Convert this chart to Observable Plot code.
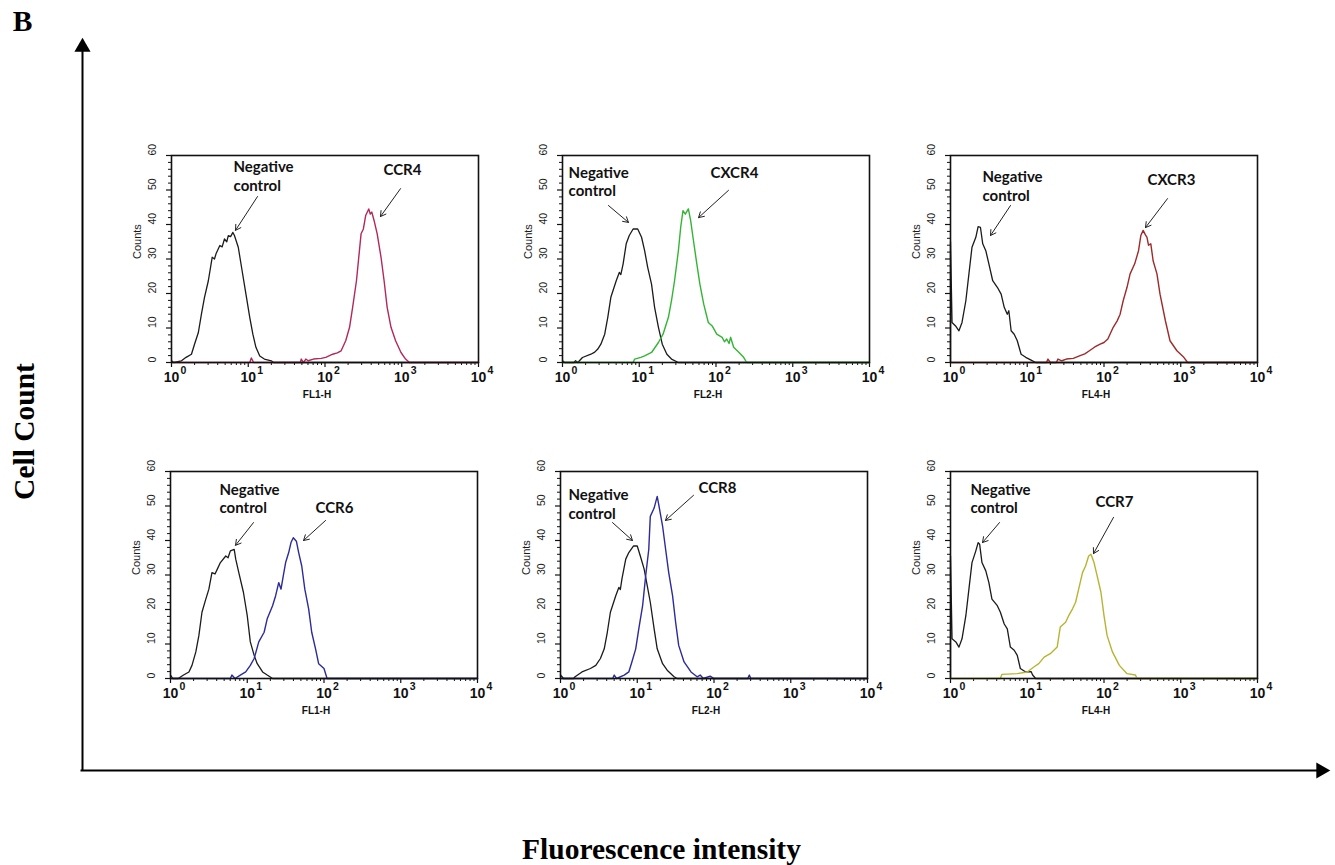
<!DOCTYPE html>
<html><head><meta charset="utf-8">
<script src="https://cdn.jsdelivr.net/npm/d3@7"></script>
<script src="https://cdn.jsdelivr.net/npm/@observablehq/plot@0.6"></script>
<style>
body{margin:0;background:#fff;}
#fig{position:relative;width:1335px;height:865px;overflow:hidden;background:#fff;}
#fig svg{position:absolute;overflow:visible;}
</style></head><body><div id="fig"></div>
<script>
// ---- Data: [log10(fluorescence intensity), cell count] ----
const ccr4NegCtrl = [[0,0.5],[0.03,0],[0.13,0.5],[0.19,1.5],[0.26,2.4],[0.30,5.3],[0.35,8.7],[0.39,14],[0.43,18.9],[0.48,23.7],[0.53,30.5],[0.56,30],[0.58,31.5],[0.63,33.9],[0.66,33.5],[0.69,35.8],[0.72,35],[0.74,36.8],[0.77,36.5],[0.80,37.7],[0.82,36.8],[0.87,33.4],[0.92,26.6],[0.97,19.8],[1.02,13],[1.06,8.2],[1.10,4.4],[1.15,1.9],[1.21,1],[1.30,0.5],[1.33,0],[4,0]];
const ccr4 = [[0,0],[1.02,0],[1.04,1.3],[1.07,0],[1.68,0],[1.69,1],[1.72,0],[1.75,1],[1.78,0.5],[1.85,1],[1.95,1.2],[2.01,1.5],[2.10,2.4],[2.16,2.8],[2.21,3.4],[2.27,6.3],[2.32,10.2],[2.36,16],[2.41,23.7],[2.44,30.5],[2.47,37.3],[2.50,38.7],[2.53,42.6],[2.57,44.5],[2.59,43],[2.61,43.6],[2.64,41.1],[2.68,37.3],[2.73,30.5],[2.77,23.7],[2.81,16],[2.86,10.2],[2.92,6.3],[2.99,2.9],[3.05,1],[3.10,0],[4,0]];
const cxcr4NegCtrl = [[0,0.5],[0.03,0],[0.15,0],[0.17,0.5],[0.2,0],[0.26,1.45],[0.37,2.4],[0.42,3],[0.46,3.9],[0.50,5.3],[0.55,8.2],[0.59,13.1],[0.63,18.9],[0.70,23.7],[0.74,26.1],[0.76,25.5],[0.79,28.6],[0.83,34.4],[0.87,36.8],[0.92,38.7],[0.98,38.7],[1.03,36.3],[1.07,32.4],[1.11,27.6],[1.16,22.7],[1.20,16],[1.25,10.2],[1.30,5.3],[1.36,2.4],[1.42,1],[1.51,0],[4,0]];
const cxcr4 = [[0,0],[0.92,0],[0.94,1],[1.02,1.5],[1.07,1.9],[1.16,2.9],[1.25,5.8],[1.31,8.2],[1.38,13.1],[1.42,17.9],[1.46,23.7],[1.51,32.4],[1.54,39.2],[1.57,44],[1.60,43],[1.64,44.5],[1.67,41.1],[1.70,36.3],[1.75,28.6],[1.79,22.7],[1.84,16.9],[1.90,11.6],[1.95,10.6],[2.01,8.2],[2.08,7.3],[2.11,6],[2.14,6.8],[2.17,5.5],[2.19,7.3],[2.23,4.4],[2.30,2.9],[2.36,1.5],[2.40,0],[4,0]];
const cxcr3NegCtrl = [[0,0],[0,35],[0.02,11.6],[0.066,10.6],[0.11,9.2],[0.15,11.6],[0.2,17.9],[0.24,25.7],[0.28,33.4],[0.33,36.3],[0.36,39.4],[0.39,39.2],[0.42,34.4],[0.46,32.4],[0.5,28.6],[0.55,23.7],[0.61,21.8],[0.66,19.8],[0.7,16],[0.74,14],[0.76,15],[0.79,9.2],[0.83,8.2],[0.87,6.3],[0.92,2.4],[0.98,1.5],[1.05,0.7],[1.11,0],[4,0]];
const cxcr3 = [[0,0],[1.25,0],[1.27,1],[1.3,0],[1.38,0],[1.4,1],[1.45,0.5],[1.51,1],[1.6,1.2],[1.68,1.9],[1.75,2.5],[1.81,3.4],[1.88,4.5],[1.95,5.3],[2.0,5.8],[2.05,6.8],[2.12,10.2],[2.17,12],[2.21,14],[2.25,17.9],[2.3,21.8],[2.34,25.7],[2.4,28.6],[2.45,32.4],[2.48,36.8],[2.51,38.3],[2.54,37],[2.56,36.3],[2.58,34],[2.61,34.4],[2.64,29.5],[2.69,25.7],[2.73,19.8],[2.8,12.1],[2.86,6.3],[2.95,3.4],[3.04,1.5],[3.09,0],[4,0]];
const ccr6NegCtrl = [[0,1],[0.03,0],[0.1,0],[0.17,1],[0.24,1.9],[0.28,3.8],[0.33,7.7],[0.37,12.5],[0.41,19.2],[0.46,23],[0.5,25.9],[0.54,30.7],[0.58,30.3],[0.61,31.7],[0.65,33.6],[0.72,35.5],[0.75,35],[0.78,37],[0.83,37.4],[0.85,34.6],[0.89,30.7],[0.95,25],[1.0,18.2],[1.04,10.6],[1.09,6.7],[1.13,4.3],[1.2,1.9],[1.26,1],[1.33,0],[4,0]];
const ccr6 = [[0,0],[0.78,0],[0.8,1],[0.84,0],[0.91,1],[0.98,1.9],[1.04,3.8],[1.09,5.8],[1.15,10.6],[1.22,13.4],[1.26,17.3],[1.33,21.1],[1.37,24],[1.41,27.8],[1.44,25.9],[1.47,29.8],[1.5,33.6],[1.54,36.5],[1.57,39.4],[1.6,40.8],[1.64,39.8],[1.67,36.5],[1.71,32.6],[1.75,25.9],[1.8,20.2],[1.84,13.4],[1.89,8.6],[1.93,4.3],[2.0,2.9],[2.04,0],[4,0]];
const ccr8NegCtrl = [[0,1],[0.04,0],[0.17,0],[0.19,0.5],[0.28,1.9],[0.39,2.9],[0.46,3.8],[0.52,5.8],[0.57,8.6],[0.61,13.4],[0.65,19.2],[0.72,24],[0.76,26.4],[0.78,25.8],[0.8,28.8],[0.85,34.6],[0.89,36.5],[0.95,38.4],[1.0,38.4],[1.04,35.5],[1.09,31.7],[1.13,26.9],[1.17,22.1],[1.22,14.4],[1.26,8.6],[1.33,4.3],[1.39,2.4],[1.48,0.5],[1.52,0],[4,0]];
const ccr8 = [[0,0],[0.68,0],[0.7,1],[0.73,0],[0.83,1],[0.89,1.9],[0.93,4.8],[0.98,8.6],[1.02,14.4],[1.07,21.1],[1.11,29.8],[1.15,37.4],[1.17,47],[1.22,49.4],[1.26,52.8],[1.28,50.4],[1.33,44.2],[1.37,37.4],[1.41,30.7],[1.46,24],[1.5,16.3],[1.54,9.6],[1.61,4.8],[1.7,1.9],[1.78,0.5],[1.82,1],[1.86,0],[1.95,0.7],[2.0,0],[2.44,0],[2.46,1],[2.48,0],[4,0]];
const ccr7NegCtrl = [[0,0],[0,35.5],[0.02,11.5],[0.07,10.6],[0.11,9.1],[0.15,11.5],[0.2,18.2],[0.24,25.9],[0.28,33.6],[0.33,37],[0.36,39.4],[0.38,38.9],[0.41,33.6],[0.46,31.2],[0.5,27.8],[0.54,23],[0.61,21.1],[0.65,19.2],[0.7,15.8],[0.74,14.4],[0.78,9.1],[0.83,8.2],[0.87,6.7],[0.91,2.9],[0.98,1.9],[1.05,2],[1.07,1],[1.11,0],[4,0]];
const ccr7 = [[0,0],[0.65,0],[0.67,1.2],[0.87,1.4],[1.0,1.9],[1.09,3.4],[1.15,4.3],[1.22,6.2],[1.3,7.2],[1.39,9.1],[1.43,14.9],[1.5,16.3],[1.54,18.2],[1.59,20.2],[1.63,22.1],[1.67,25.9],[1.72,30.7],[1.76,32.6],[1.8,35.5],[1.83,36],[1.87,33.6],[1.91,29.8],[1.96,25],[2.0,18.2],[2.04,12.5],[2.11,7.7],[2.2,3.8],[2.3,1.4],[2.41,1],[2.43,0],[4,0]];

const markers = ["CCR4", "CXCR4", "CXCR3", "CCR6", "CCR8", "CCR7"];
const channels = ["FL1-H", "FL2-H", "FL4-H", "FL1-H", "FL2-H", "FL4-H"];
const negCurves = [ccr4NegCtrl, cxcr4NegCtrl, cxcr3NegCtrl, ccr6NegCtrl, ccr8NegCtrl, ccr7NegCtrl];
const markerCurves = [ccr4, cxcr4, cxcr3, ccr6, ccr8, ccr7];
const colors = ["#b3285a", "#33b533", "#9e2a2a", "#2b2b9c", "#2b2b9c", "#b8b432"];

// annotation anchors in data units [intensity, count]
const negLabelAt = [[6.43,54.2],[1.2,52.6],[2.61,51.3],[4.35,52.2],[1.27,50.7],[1.82,52.2]];
const negArrow = [[13.2,48.1,6.82,38.3],[3.97,45.5,7.24,40.6],[6.05,45.5,3.32,36.8],[12.06,45.2,7.03,38.6],[4.76,45.2,8.67,40.0],[4.35,45.2,2.61,39.4]];
const markerLabelAt = [[578,55.7],[84.8,54.8],[369,52.8],[77.5,49.3],[62.8,55.1],[77.5,51.0]];
const markerArrow = [[964,50.4,528,42.3],[145.5,49.9,59.2,42.0],[672,47.5,347,39.1],[104.7,45.8,54.1,40.0],[54.1,53.1,23.3,45.8],[133,46.7,73,36.2]];

// axes ticks & labels
const xMajor = [1, 10, 100, 1000, 10000];
const xExp = ["0", "1", "2", "3", "4"];
const xMinor = [1, 10, 100, 1000].flatMap(d => [2,3,4,5,6,7,8,9].map(k => k * d));
const yMajor = [0, 10, 20, 30, 40, 50, 60];
const yMinor = d3.range(2, 60, 2).filter(v => v % 10 !== 0);

// layout (frame left / bottom in page pixels)
const panelLeft = [171, 562, 950, 170, 560, 950];
const panelBottom = [362, 362, 362, 678, 678, 678];

const sans = "Liberation Sans, Arial, sans-serif";
const ann = "Lato, Liberation Sans, sans-serif";
const serif = "Liberation Serif, Times New Roman, serif";
const fig = document.getElementById("fig");

// ---- background: big axes arrows & figure labels ----
const axisLines = [{x1: 82, y1: 770, x2: 82, y2: 50}, {x1: 80, y1: 770, x2: 1322, y2: 770}];
const axisHeads = [{x: 82, y: 46.5, rot: 0}, {x: 1320.5, y: 770, rot: 90}];
const figLabels = [
  {x: 22, y: 21, t: "B", r: 0},
  {x: 24, y: 431, t: "Cell Count", r: -90},
  {x: 661, y: 849, t: "Fluorescence intensity", r: 0}
];
const bg = Plot.plot({
  width: 1335, height: 865, margin: 0,
  x: {domain: [0, 1335], range: [0, 1335], axis: null},
  y: {domain: [0, 865], range: [0, 865], axis: null},
  style: {background: "transparent"},
  marks: [
    Plot.link(axisLines, {x1: "x1", y1: "y1", x2: "x2", y2: "y2", stroke: "#000", strokeWidth: 2}),
    Plot.dot(axisHeads, {x: "x", y: "y", rotate: "rot", symbol: "triangle", r: 6, fill: "#000", stroke: "none"}),
    Plot.text(figLabels, {x: "x", y: "y", text: "t", rotate: "r", textAnchor: "middle", fontSize: 29.5, fontWeight: "bold", fontFamily: serif, fill: "#000"})
  ]
});
bg.style.left = "0px"; bg.style.top = "0px";
fig.appendChild(bg);

// ---- six histogram panels ----
const W = 307, H = 207, mL = 50, mR = 12, mT = 12, mB = 48;
const xv = d => 10 ** d[0], yv = d => d[1];
markers.forEach((name, i) => {
  const svg = Plot.plot({
    width: mL + W + mR, height: mT + H + mB,
    marginLeft: mL, marginRight: mR, marginTop: mT, marginBottom: mB,
    x: {type: "log", domain: [1, 10000], axis: null},
    y: {domain: [0, 60], axis: null},
    style: {background: "transparent", color: "#111", fontFamily: sans},
    marks: [
      Plot.axisX({ticks: xMajor, tickSize: 5, tickFormat: () => "", label: null, strokeWidth: 1.2}),
      Plot.axisX({ticks: xMinor, tickSize: 3, tickFormat: () => "", label: null, strokeWidth: 1}),
      Plot.axisY({ticks: yMajor, tickSize: 5, tickFormat: () => "", label: null, strokeWidth: 1.2}),
      Plot.axisY({ticks: yMinor, tickSize: 3, tickFormat: () => "", label: null, strokeWidth: 1}),
      Plot.text(yMajor, {y: d => d, frameAnchor: "left", dx: -19, rotate: -90, text: d => String(d), fontSize: 10.5, fill: "#1a1a1a"}),
      Plot.text(["Counts"], {frameAnchor: "left", dx: -34, rotate: -90, fontSize: 11, fill: "#1a1a1a"}),
      Plot.text(xMajor, {x: d => d, frameAnchor: "bottom", dy: 19, text: () => "10", fontSize: 14, fontWeight: "bold", fill: "#111"}),
      Plot.text(xMajor, {x: d => d, frameAnchor: "bottom", dy: 11, dx: 12, text: (d, j) => xExp[j], fontSize: 10.5, fontWeight: "bold", fill: "#111"}),
      Plot.text([channels[i]], {frameAnchor: "bottom", dx: -8, dy: 35, fontSize: 10, fontWeight: "bold", fill: "#111"}),
      Plot.line(negCurves[i], {x: xv, y: yv, stroke: "#1b1b1b", strokeWidth: 1.3}),
      Plot.line(markerCurves[i], {x: xv, y: yv, stroke: colors[i], strokeWidth: 1.4}),
      Plot.frame({stroke: "#111", strokeWidth: 1.6}),
      Plot.text([negLabelAt[i]], {x: d => d[0], y: d => d[1], text: () => "Negative\ncontrol", textAnchor: "start", lineAnchor: "middle", lineHeight: 1.22, fontSize: 15, fontWeight: "bold", fontFamily: ann, fill: "#111"}),
      Plot.arrow([negArrow[i]], {x1: d => d[0], y1: d => d[1], x2: d => d[2], y2: d => d[3], headLength: 9, strokeWidth: 1, stroke: "#222"}),
      Plot.text([markerLabelAt[i]], {x: d => d[0], y: d => d[1], text: () => name, textAnchor: "start", fontSize: 15, fontWeight: "bold", fontFamily: ann, fill: "#111"}),
      Plot.arrow([markerArrow[i]], {x1: d => d[0], y1: d => d[1], x2: d => d[2], y2: d => d[3], headLength: 9, strokeWidth: 1, stroke: "#222"})
    ]
  });
  svg.style.left = (panelLeft[i] - mL) + "px";
  svg.style.top = (panelBottom[i] - H - mT) + "px";
  fig.appendChild(svg);
});
</script></body></html>
